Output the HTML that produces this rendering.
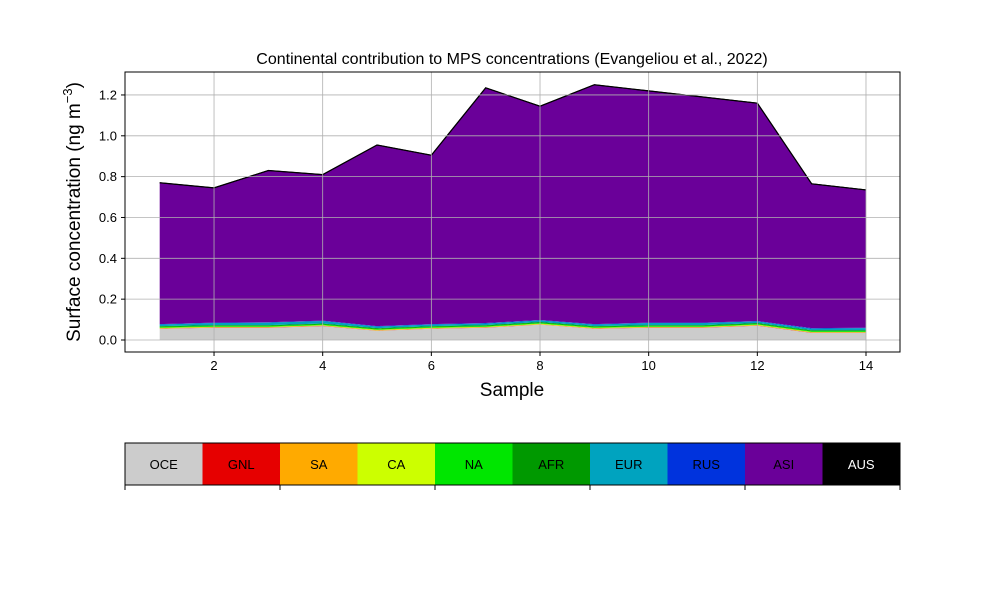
<!DOCTYPE html>
<html><head><meta charset="utf-8"><style>body{margin:0;background:#fff}svg{display:block;font-family:"Liberation Sans",sans-serif}</style></head>
<body>
<svg id="c" width="1000" height="600"></svg>
<script>
const samples=[1,2,3,4,5,6,7,8,9,10,11,12,13,14];
const names=["OCE","GNL","SA","CA","NA","AFR","EUR","RUS","ASI","AUS"];
const colors=["#cccccc","#e60000","#ffaa00","#ccff00","#00e600","#009900","#00a3bf","#0033dd","#6a0099","#000000"];
const oce=[0.055,0.06,0.06,0.068,0.045,0.055,0.06,0.075,0.055,0.06,0.06,0.07,0.035,0.035];
const gnl=[0.001,0.001,0.001,0.001,0.001,0.001,0.001,0.001,0.001,0.001,0.001,0.001,0.001,0.001];
const sa=[0.002,0.002,0.002,0.002,0.002,0.002,0.002,0.002,0.002,0.002,0.002,0.002,0.002,0.002];
const ca=[0.002,0.002,0.002,0.002,0.002,0.002,0.002,0.002,0.002,0.002,0.002,0.002,0.002,0.002];
const na=[0.004,0.004,0.004,0.004,0.004,0.004,0.004,0.004,0.004,0.004,0.004,0.004,0.004,0.004];
const afr=[0.004,0.004,0.004,0.004,0.004,0.004,0.004,0.004,0.004,0.004,0.004,0.004,0.004,0.004];
const eur=[0.008,0.01,0.012,0.012,0.008,0.008,0.008,0.008,0.008,0.01,0.01,0.008,0.008,0.01];
const rus=[0.002,0.002,0.002,0.002,0.002,0.002,0.002,0.002,0.002,0.002,0.002,0.002,0.002,0.002];
const total=[0.77,0.745,0.83,0.81,0.955,0.905,1.235,1.145,1.25,1.22,1.19,1.16,0.765,0.735];
const aus=[0,0,0,0,0,0,0,0,0,0,0,0,0,0];
const xTicks=[2,4,6,8,10,12,14];
const yTicks=[0,0.2,0.4,0.6,0.8,1.0,1.2];
const svg=document.getElementById('c');const NS="http://www.w3.org/2000/svg";
function el(t,a,p){const e=document.createElementNS(NS,t);for(const k in a)e.setAttribute(k,a[k]);(p||svg).appendChild(e);return e;}
const X=v=>159.7+(v-1)*54.33, Y=v=>340-v*204.2;
const L={x:125,y:72,w:775,h:280};
// stack
const below=[oce,gnl,sa,ca,na,afr,eur,rus];
const asi=total.map((t,i)=>t-below.reduce((s,a)=>s+a[i],0));
const layers=[...below,asi,aus];
let base=samples.map(()=>0);
layers.forEach((arr,li)=>{
 const top=base.map((b,i)=>b+arr[i]);
 let d=samples.map((s,i)=>(i?'L':'M')+X(s)+','+Y(top[i])).join('');
 for(let i=samples.length-1;i>=0;i--)d+='L'+X(samples[i])+','+Y(base[i]);
 const p=el('path',{d:d+'Z',fill:colors[li],stroke:li==9?'#000':'none'});
 
 
 base=top;
});
const ln=el('polyline',{points:samples.map((s,i)=>X(s)+','+Y(total[i])).join(' '),fill:'none',stroke:'#000','stroke-width':1.2});

// grid & ticks
xTicks.forEach(v=>{
 const g=el('line',{x1:X(v),x2:X(v),y1:L.y,y2:L.y+L.h,stroke:'#b0b0b0','stroke-width':0.8});
 
 el('line',{x1:X(v),x2:X(v),y1:352,y2:356,stroke:'#000'});
 const t=el('text',{x:X(v),y:370,'font-size':13,'text-anchor':'middle'});t.textContent=v;
 
});
yTicks.forEach(v=>{
 const g=el('line',{x1:L.x,x2:L.x+L.w,y1:Y(v),y2:Y(v),stroke:'#b0b0b0','stroke-width':0.8});
 
 el('line',{x1:121,x2:125,y1:Y(v),y2:Y(v),stroke:'#000'});
 const t=el('text',{x:117,y:Y(v)+4.5,'font-size':13,'text-anchor':'end'});t.textContent=v.toFixed(1);
 
});
el('rect',{x:L.x,y:L.y,width:L.w,height:L.h,fill:'none',stroke:'#000'});
</script>
<svg style="position:absolute;left:0;top:0" width="1000" height="600">
<text x="512" y="64" font-size="16" text-anchor="middle">Continental contribution to MPS concentrations (Evangeliou et al., 2022)</text>
<text x="512" y="396" font-size="19" text-anchor="middle">Sample</text>
<text transform="translate(80,212) rotate(-90)" font-size="19" text-anchor="middle">Surface concentration (ng m<tspan font-size="13" dy="-8">−3</tspan><tspan dy="8">)</tspan></text>
<g font-size="13" text-anchor="middle">
<rect x="125" y="443" width="77.5" height="42" fill="#cccccc"/><text x="163.75" y="469">OCE</text>
<rect x="202.5" y="443" width="77.5" height="42" fill="#e60000"/><text x="241.25" y="469">GNL</text>
<rect x="280" y="443" width="77.5" height="42" fill="#ffaa00"/><text x="318.75" y="469">SA</text>
<rect x="357.5" y="443" width="77.5" height="42" fill="#ccff00"/><text x="396.25" y="469">CA</text>
<rect x="435" y="443" width="77.5" height="42" fill="#00e600"/><text x="473.75" y="469">NA</text>
<rect x="512.5" y="443" width="77.5" height="42" fill="#009900"/><text x="551.25" y="469">AFR</text>
<rect x="590" y="443" width="77.5" height="42" fill="#00a3bf"/><text x="628.75" y="469">EUR</text>
<rect x="667.5" y="443" width="77.5" height="42" fill="#0033dd"/><text x="706.25" y="469">RUS</text>
<rect x="745" y="443" width="77.5" height="42" fill="#6a0099"/><text x="783.75" y="469">ASI</text>
<rect x="822.5" y="443" width="77.5" height="42" fill="#000"/><text x="861.25" y="469" fill="#fff">AUS</text>
<rect x="125" y="443" width="775" height="42" fill="none" stroke="#000"/>
<path d="M125,485v5M280,485v5M435,485v5M590,485v5M745,485v5M900,485v5" stroke="#000"/>
</g>
</svg>
</body></html>
